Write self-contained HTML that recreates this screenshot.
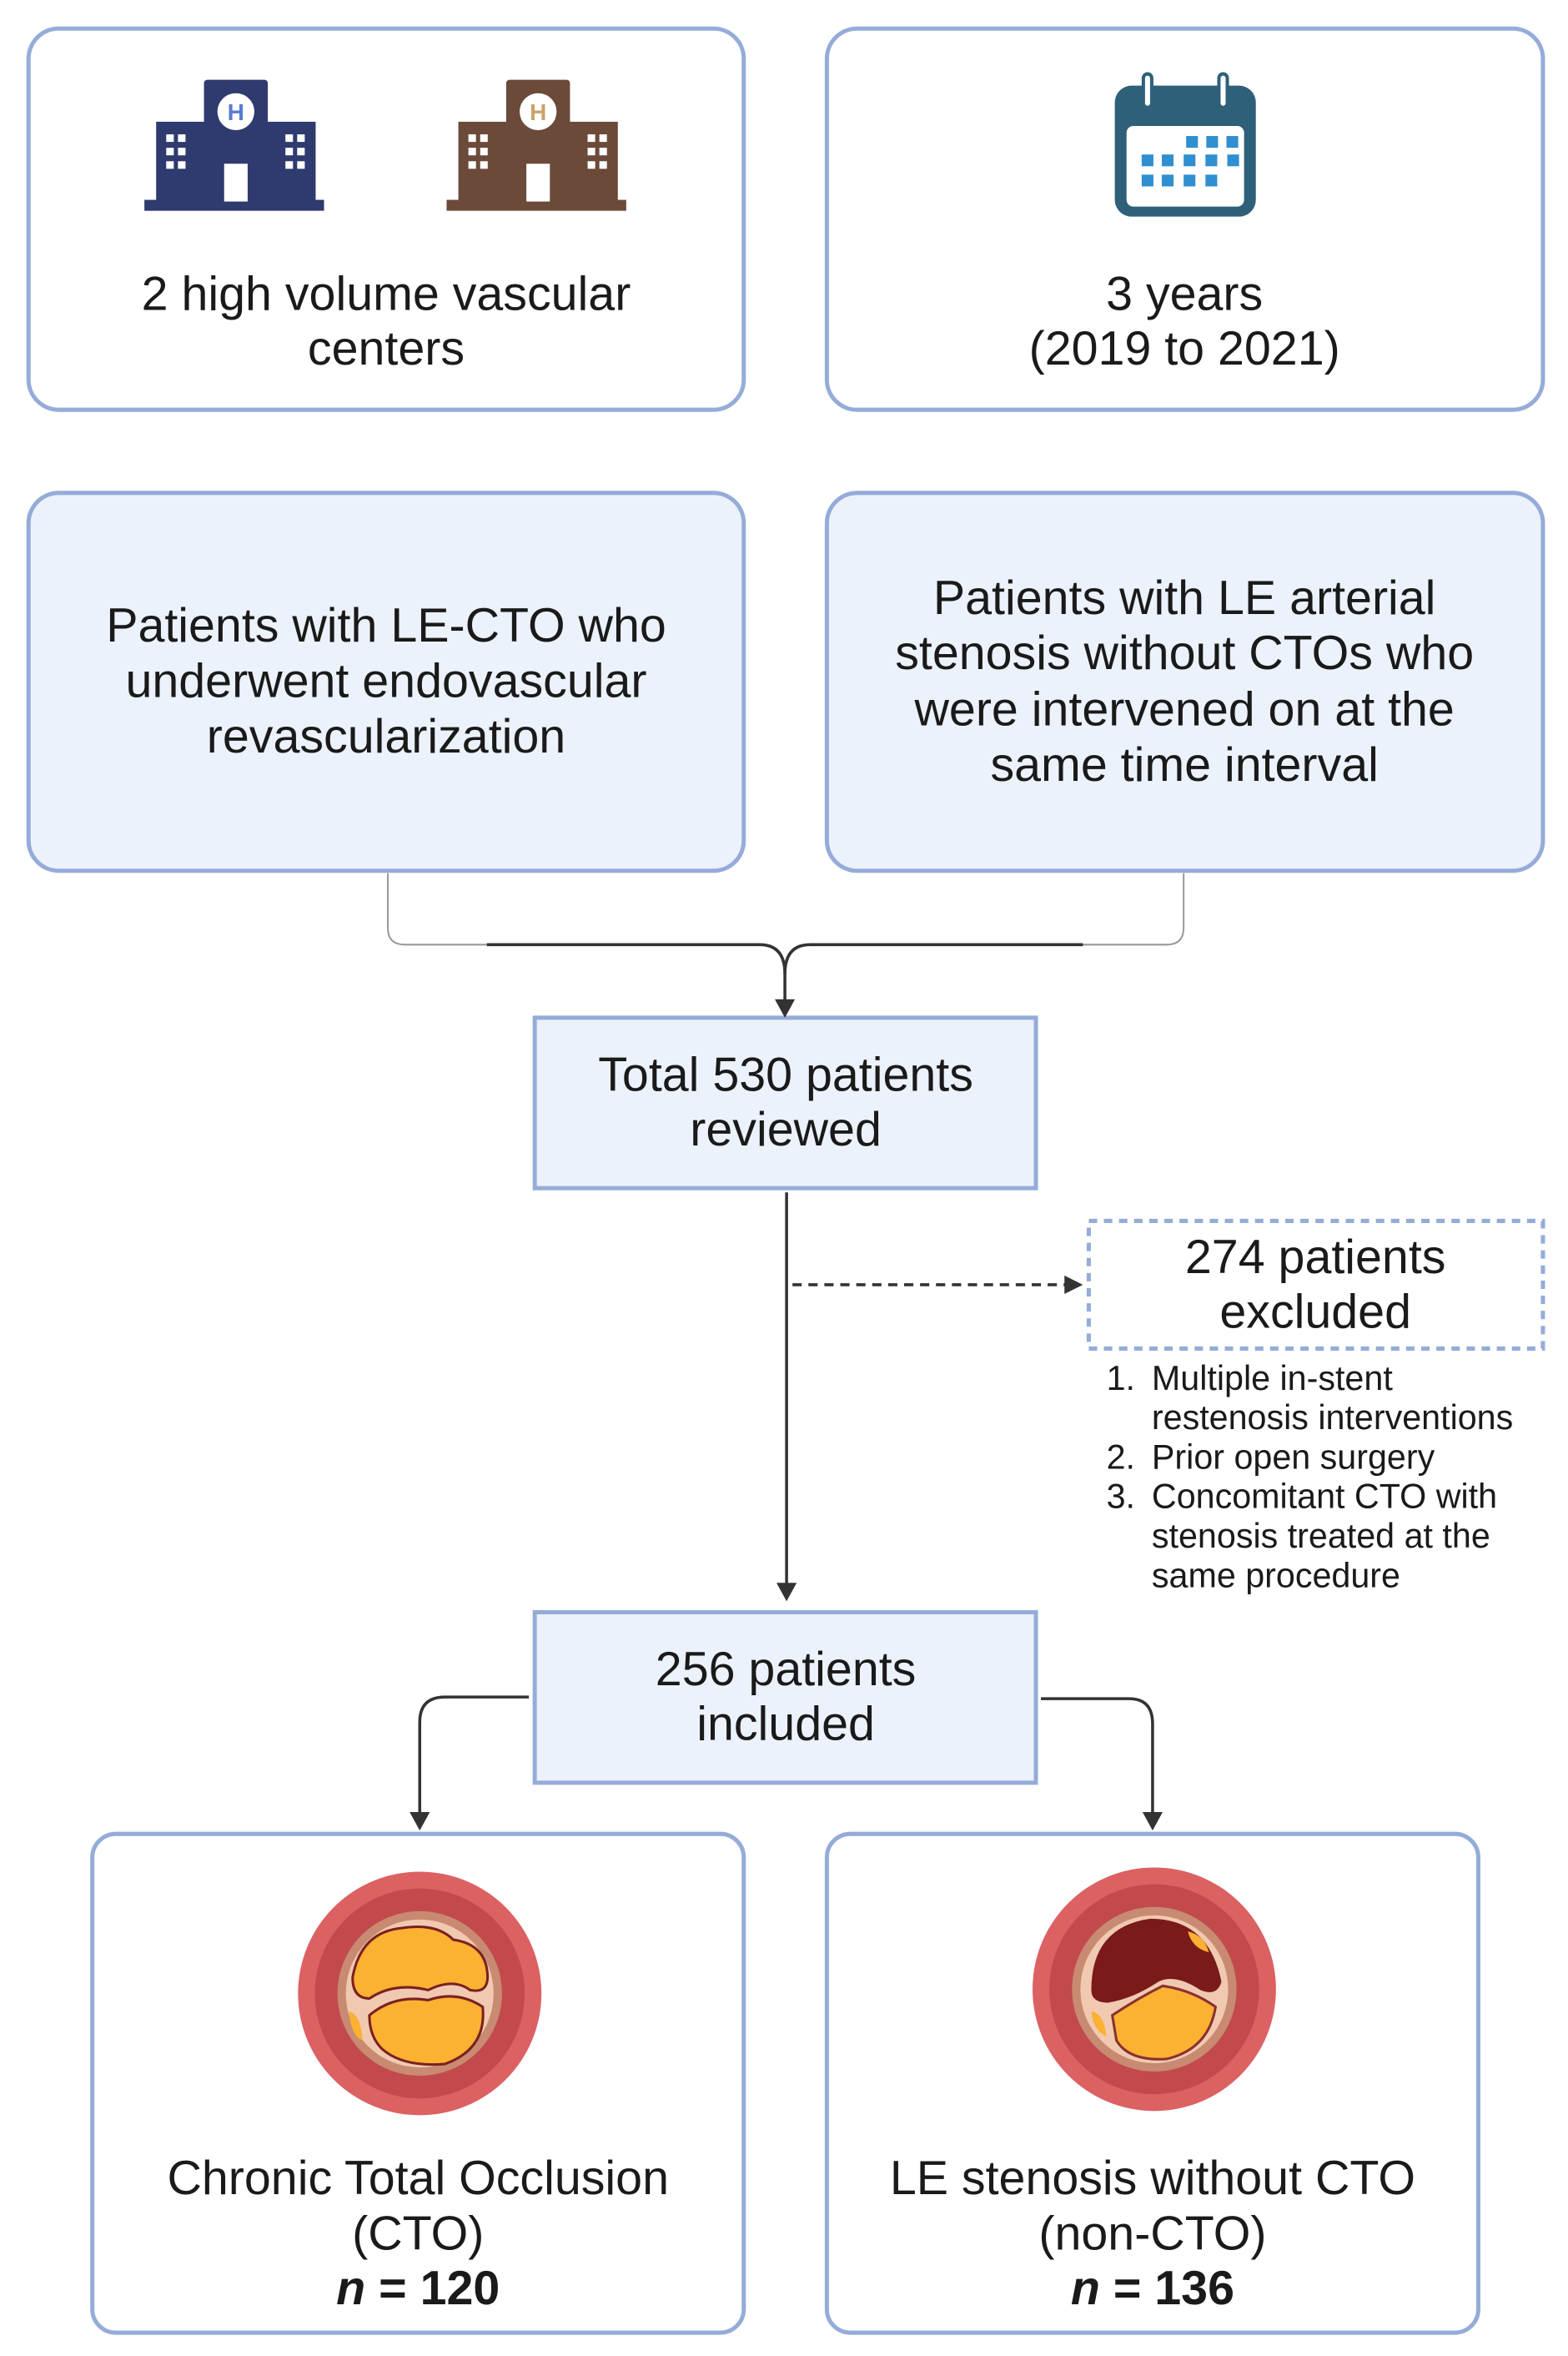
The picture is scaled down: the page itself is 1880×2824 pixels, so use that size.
<!DOCTYPE html>
<html><head><meta charset="utf-8"><style>
html,body{margin:0;padding:0;background:#fff;}
svg{display:block;}
text{font-family:"Liberation Sans",Arial,sans-serif;fill:#1a1a1a;}
</style></head><body>
<svg width="1880" height="2824" viewBox="0 0 1880 2824" xmlns="http://www.w3.org/2000/svg">
<g transform="scale(1.0065)">
<g stroke="#95acd9" stroke-width="5">
<rect x="34" y="34" width="852" height="454" rx="36" fill="#fff"/>
<rect x="985" y="34" width="853" height="454" rx="36" fill="#fff"/>
<rect x="34" y="587" width="852" height="450" rx="36" fill="#ecf2fb"/>
<rect x="985" y="587" width="853" height="450" rx="36" fill="#ecf2fb"/>
<rect x="637" y="1212" width="597" height="203" fill="#ecf2fb"/>
<rect x="637" y="1920" width="597" height="203" fill="#ecf2fb"/>
<rect x="110" y="2184" width="776" height="594" rx="28" fill="#fff"/>
<rect x="985" y="2184" width="776" height="594" rx="28" fill="#fff"/>
<rect x="1297" y="1454" width="541" height="152" fill="none" stroke-dasharray="10 8"/>
</g>
<g fill="none" stroke="#333" stroke-width="3.5">
<path d="M462 1040 V1105 Q462 1125 482 1125 H905 Q935 1125 935 1160 V1195" stroke="#999" stroke-width="2"/>
<path d="M1410 1040 V1105 Q1410 1125 1390 1125 H965 Q935 1125 935 1160 V1195" stroke="#999" stroke-width="2"/>
<path d="M580 1125 H905 Q935 1125 935 1160 V1195"/>
<path d="M1290 1125 H965 Q935 1125 935 1160"/>
<path d="M937 1420 V1890"/>
<path d="M944 1530 H1270" stroke-dasharray="11 8"/>
<path d="M630 2021 H530 Q500 2021 500 2051 V2162"/>
<path d="M1240 2023 H1345 Q1373 2023 1373 2053 V2162"/>
</g>
<g fill="#333">
<polygon points="923,1190 947,1190 935,1212"/>
<polygon points="925,1885 949,1885 937,1907"/>
<polygon points="1268,1519 1268,1541 1290,1530"/>
<polygon points="488,2158 512,2158 500,2180"/>
<polygon points="1361,2158 1385,2158 1373,2180"/>
</g>
<g fill="#2f3a6e">
<rect x="243" y="95" width="76" height="150" rx="4"/>
<rect x="186" y="145" width="60" height="100"/>
<rect x="316" y="145" width="60" height="100"/>
<rect x="172" y="238" width="214" height="13"/>
</g>
<g fill="#fff">
<circle cx="281" cy="133" r="22"/>
<rect x="267" y="195" width="28" height="45"/>
<rect x="198" y="160" width="9" height="9"/><rect x="212" y="160" width="9" height="9"/>
<rect x="198" y="176" width="9" height="9"/><rect x="212" y="176" width="9" height="9"/>
<rect x="198" y="192" width="9" height="9"/><rect x="212" y="192" width="9" height="9"/>
<rect x="340" y="160" width="9" height="9"/><rect x="354" y="160" width="9" height="9"/>
<rect x="340" y="176" width="9" height="9"/><rect x="354" y="176" width="9" height="9"/>
<rect x="340" y="192" width="9" height="9"/><rect x="354" y="192" width="9" height="9"/>
</g>
<text x="281" y="143" font-size="28" font-weight="bold" text-anchor="middle" style="fill:#5a7bd0">H</text>
<g fill="#6b4a3a">
<rect x="603" y="95" width="76" height="150" rx="4"/>
<rect x="546" y="145" width="60" height="100"/>
<rect x="676" y="145" width="60" height="100"/>
<rect x="532" y="238" width="214" height="13"/>
</g>
<g fill="#fff">
<circle cx="641" cy="133" r="22"/>
<rect x="627" y="195" width="28" height="45"/>
<rect x="558" y="160" width="9" height="9"/><rect x="572" y="160" width="9" height="9"/>
<rect x="558" y="176" width="9" height="9"/><rect x="572" y="176" width="9" height="9"/>
<rect x="558" y="192" width="9" height="9"/><rect x="572" y="192" width="9" height="9"/>
<rect x="700" y="160" width="9" height="9"/><rect x="714" y="160" width="9" height="9"/>
<rect x="700" y="176" width="9" height="9"/><rect x="714" y="176" width="9" height="9"/>
<rect x="700" y="192" width="9" height="9"/><rect x="714" y="192" width="9" height="9"/>
</g>
<text x="641" y="143" font-size="28" font-weight="bold" text-anchor="middle" style="fill:#c9a46a">H</text>
<rect x="1328" y="102" width="168" height="156" rx="20" fill="#2f6079"/>
<rect x="1342" y="150" width="140" height="96" rx="8" fill="#fff"/>
<rect x="1362" y="88" width="10" height="40" rx="5" fill="#fff" stroke="#2f6079" stroke-width="4"/>
<rect x="1452" y="88" width="10" height="40" rx="5" fill="#fff" stroke="#2f6079" stroke-width="4"/>
<g fill="#2f8fd0">
<rect x="1413" y="162" width="14" height="14"/><rect x="1437" y="162" width="14" height="14"/><rect x="1461" y="162" width="14" height="14"/>
<rect x="1360" y="184" width="14" height="14"/><rect x="1384" y="184" width="14" height="14"/><rect x="1410" y="184" width="14" height="14"/><rect x="1436" y="184" width="14" height="14"/><rect x="1462" y="184" width="14" height="14"/>
<rect x="1360" y="208" width="14" height="14"/><rect x="1384" y="208" width="14" height="14"/><rect x="1410" y="208" width="14" height="14"/><rect x="1436" y="208" width="14" height="14"/>
</g>
<g>
<circle cx="500" cy="2374" r="145" fill="#dc6163"/>
<circle cx="500" cy="2374" r="125" fill="#c24a4d"/>
<circle cx="500" cy="2374" r="98" fill="#c98a72"/>
<circle cx="500" cy="2374" r="88" fill="#f0c9b0"/>
<path d="M420 2355 Q430 2300 480 2296 Q520 2290 540 2310 Q575 2315 580 2345 Q585 2375 560 2370 Q540 2355 510 2370 Q470 2360 440 2380 Q420 2380 420 2355Z" fill="#fbb131" stroke="#7a2020" stroke-width="3"/>
<path d="M440 2400 Q470 2375 510 2382 Q545 2370 575 2390 Q580 2440 530 2458 Q480 2462 455 2440 Q440 2425 440 2400Z" fill="#fbb131" stroke="#7a2020" stroke-width="3"/>
<path d="M416 2395 Q430 2400 432 2430 Q418 2425 416 2395Z" fill="#fbb131"/>
</g>
<g>
<circle cx="1375" cy="2369" r="145" fill="#dc6163"/>
<circle cx="1375" cy="2369" r="125" fill="#c24a4d"/>
<circle cx="1375" cy="2369" r="98" fill="#c98a72"/>
<circle cx="1375" cy="2369" r="88" fill="#f0c9b0"/>
<path d="M1300 2370 Q1300 2295 1370 2285 Q1440 2285 1455 2360 Q1450 2378 1430 2370 Q1400 2350 1380 2360 Q1350 2380 1320 2385 Q1300 2385 1300 2370Z" fill="#7a1a1a"/>
<path d="M1325 2400 Q1355 2380 1385 2365 Q1420 2370 1448 2390 Q1440 2440 1390 2452 Q1345 2455 1330 2430Z" fill="#fbb131" stroke="#8a3030" stroke-width="3"/>
<path d="M1300 2395 Q1315 2398 1318 2425 Q1302 2418 1300 2395Z" fill="#fbb131"/>
<path d="M1415 2300 Q1435 2305 1440 2325 Q1420 2320 1415 2300Z" fill="#fbb131"/>
</g>
<g font-size="57" text-anchor="middle">
<text x="460" y="369">2 high volume vascular</text>
<text x="460" y="434">centers</text>
<text x="1411" y="369">3 years</text>
<text x="1411" y="434">(2019 to 2021)</text>
<text x="460" y="764">Patients with LE-CTO who</text>
<text x="460" y="830">underwent endovascular</text>
<text x="460" y="896">revascularization</text>
<text x="1411" y="731">Patients with LE arterial</text>
<text x="1411" y="797">stenosis without CTOs who</text>
<text x="1411" y="864">were intervened on at the</text>
<text x="1411" y="930">same time interval</text>
<text x="936" y="1299">Total 530 patients</text>
<text x="936" y="1364">reviewed</text>
<text x="1567" y="1516">274 patients</text>
<text x="1567" y="1581">excluded</text>
<text x="936" y="2007">256 patients</text>
<text x="936" y="2072">included</text>
<text x="498" y="2613">Chronic Total Occlusion</text>
<text x="498" y="2679">(CTO)</text>
<text x="498" y="2744" font-weight="bold"><tspan font-style="italic">n</tspan> = 120</text>
<text x="1373" y="2613">LE stenosis without CTO</text>
<text x="1373" y="2679">(non-CTO)</text>
<text x="1373" y="2744" font-weight="bold"><tspan font-style="italic">n</tspan> = 136</text>
</g>
<g font-size="41">
<text x="1318" y="1655">1.</text><text x="1372" y="1655">Multiple in-stent</text>
<text x="1372" y="1702">restenosis interventions</text>
<text x="1318" y="1749">2.</text><text x="1372" y="1749">Prior open surgery</text>
<text x="1318" y="1796">3.</text><text x="1372" y="1796">Concomitant CTO with</text>
<text x="1372" y="1843">stenosis treated at the</text>
<text x="1372" y="1890">same procedure</text>
</g>
</g>
</svg>
</body></html>
